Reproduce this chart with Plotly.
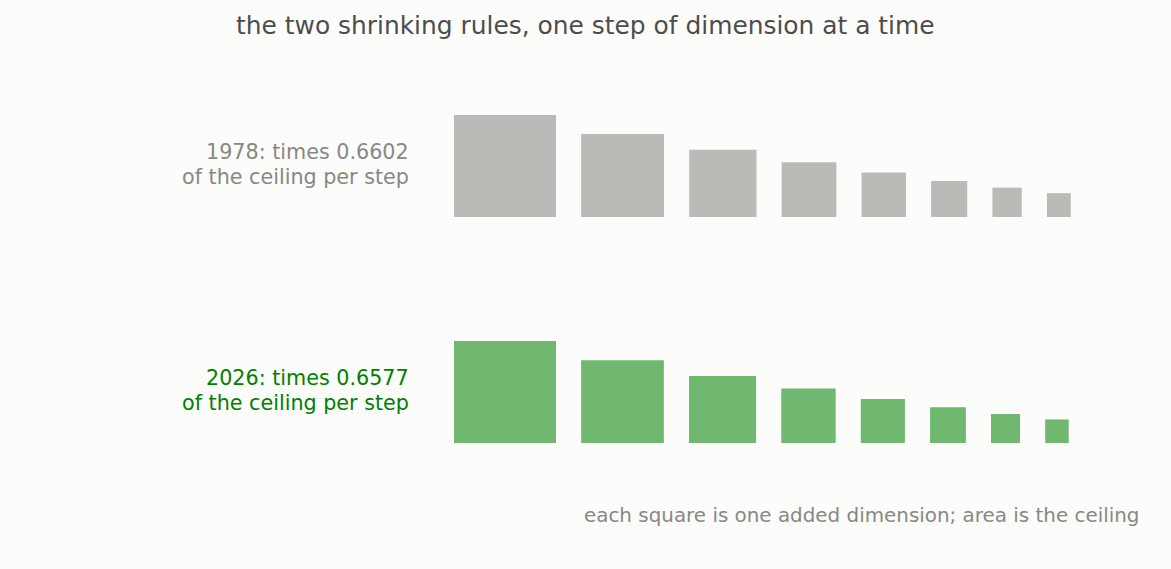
import math
import plotly.graph_objects as go

# ceiling per added dimension (area of each square)
steps = [1, 2, 3, 4, 5, 6, 7, 8]
ceiling_1978 = [1.0, 0.6602, 0.43586, 0.28776, 0.18998, 0.12542, 0.08280, 0.05467]
ceiling_2026 = [1.0, 0.6577, 0.43257, 0.28450, 0.18712, 0.12307, 0.08094, 0.05324]
label_1978 = ["1978: times 0.6602", "of the ceiling per step"]
label_2026 = ["2026: times 0.6577", "of the ceiling per step"]
title_text = "the two shrinking rules, one step of dimension at a time"
footer_text = "each square is one added dimension; area is the ceiling"

W, H = 1171, 569
unit = 102.0          # pixels per unit side
x0 = 454 / unit       # left edge of first square
gap = 25.15 / unit
rows = [
    dict(vals=ceiling_1978, base=(H - 217) / unit, color="#bbbab6", text="#888885",
         label=label_1978, ly=[152, 177]),
    dict(vals=ceiling_2026, base=(H - 443) / unit, color="#70b870", text="#008000",
         label=label_2026, ly=[378, 403]),
]

fig = go.Figure()
annotations = []
for r in rows:
    sides = [math.sqrt(v) for v in r["vals"]]
    centers, widths = [], []
    left = x0
    for s in sides:
        centers.append(left + s / 2)
        widths.append(s)
        left += s + gap
    fig.add_trace(go.Bar(
        x=centers, y=sides, width=widths, base=[r["base"]] * len(sides),
        marker=dict(color=r["color"], line=dict(width=0)),
        hoverinfo="skip", showlegend=False,
    ))
    for line, ly in zip(r["label"], r["ly"]):
        annotations.append(dict(
            text=line, xref="paper", yref="paper",
            x=410.5 / W, y=1 - ly / H, xanchor="right", yanchor="middle",
            align="right", showarrow=False,
            font=dict(size=20.7, color=r["text"], family="DejaVu Sans"),
        ))

annotations.append(dict(
    text=footer_text,
    xref="paper", yref="paper", x=1141 / W, y=1 - 515 / H,
    xanchor="right", yanchor="middle", showarrow=False,
    font=dict(size=19.9, color="#888885", family="DejaVu Sans"),
))
annotations.append(dict(
    text=title_text,
    xref="paper", yref="paper", x=585.5 / W, y=1 - 25 / H,
    xanchor="center", yanchor="middle", showarrow=False,
    font=dict(size=24.9, color="#4d4d4d", family="DejaVu Sans"),
))

fig.update_layout(
    width=W, height=H,
    margin=dict(l=0, r=0, t=0, b=0),
    paper_bgcolor="#fcfcfb", plot_bgcolor="#fcfcfb",
    barmode="overlay",
    annotations=annotations,
    xaxis=dict(range=[0, W / unit], visible=False, fixedrange=True),
    yaxis=dict(range=[0, H / unit], visible=False, fixedrange=True),
)

fig.write_html(
    "out.html",
    config={"displayModeBar": False},
    post_script="document.body.style.margin='0';document.body.style.background='#fcfcfb';document.body.style.overflow='hidden';",
)
